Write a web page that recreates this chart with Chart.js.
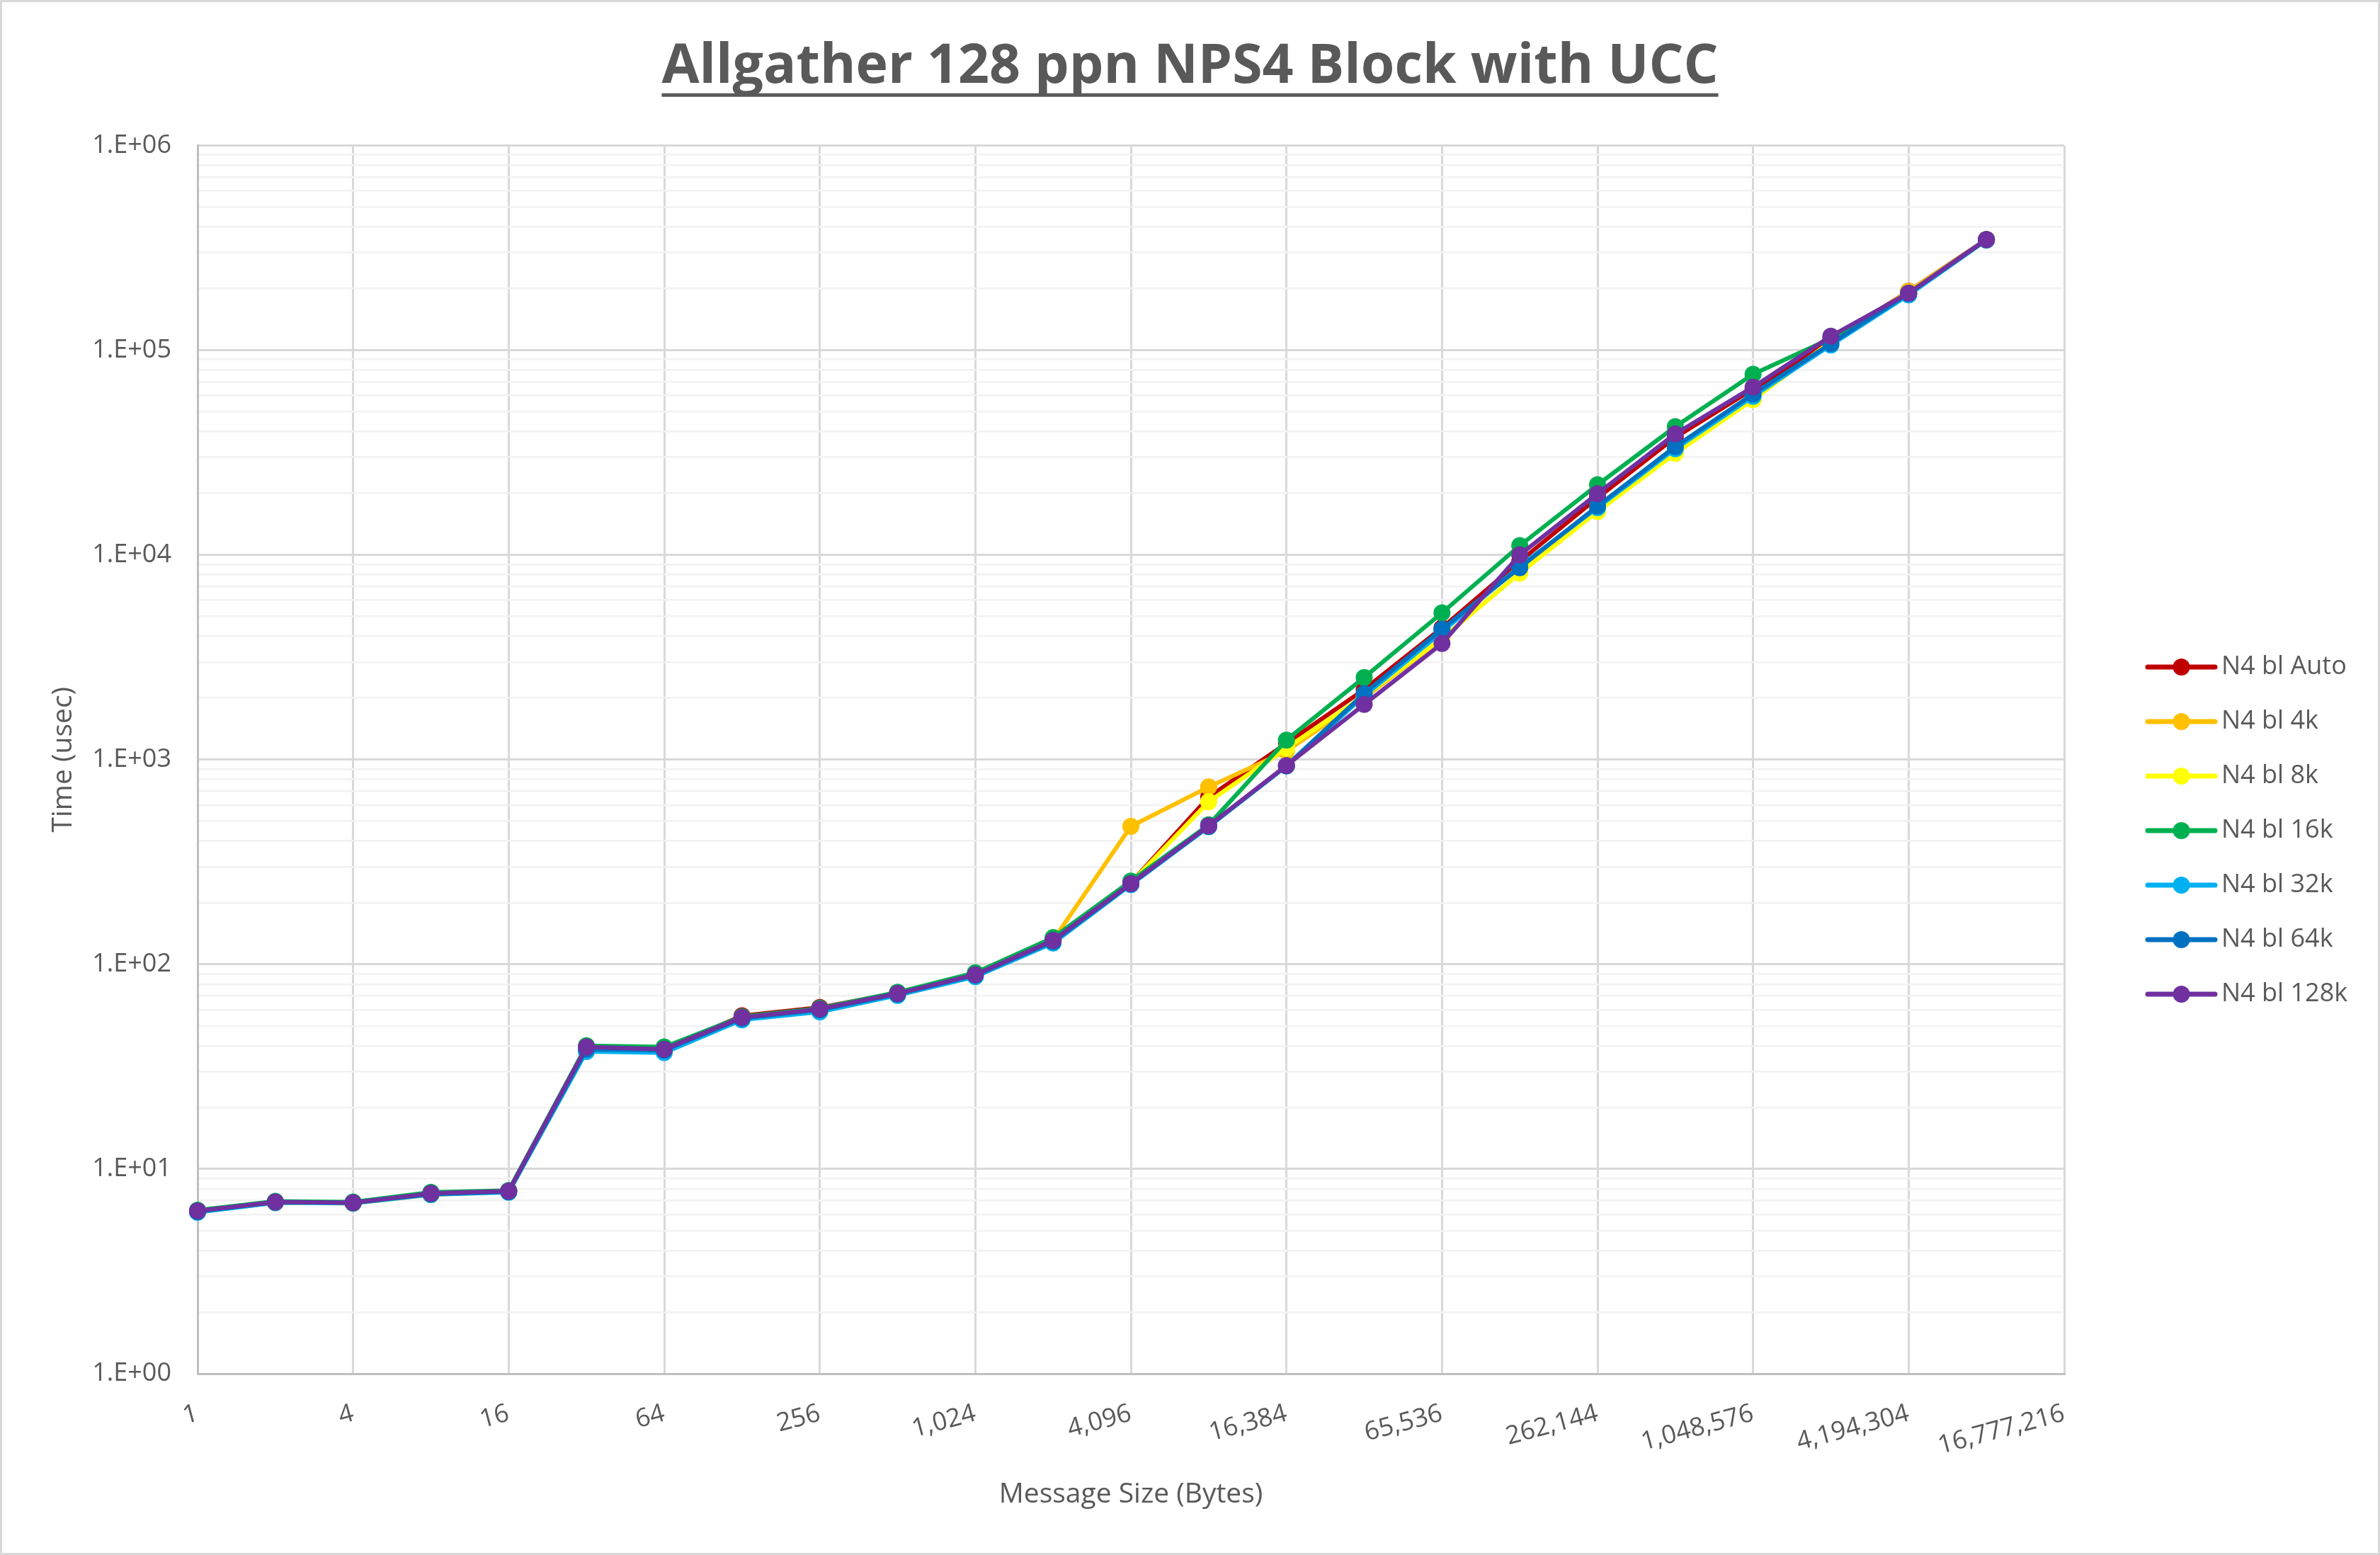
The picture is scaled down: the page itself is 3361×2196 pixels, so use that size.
<!DOCTYPE html>
<html>
<head>
<meta charset="utf-8">
<title>Allgather 128 ppn NPS4 Block with UCC</title>
<script src="https://cdn.jsdelivr.net/npm/chart.js@4.4.1/dist/chart.umd.min.js"></script>
<style>
  html, body { margin: 0; padding: 0; background: #fff; overflow: hidden; }
  canvas { display: block; }
</style>
</head>
<body>
<canvas id="chart" width="3361" height="2196"></canvas>
<script>
// Message sizes in bytes; the last one only closes the axis (no data there)
const messageSizes = [1, 2, 4, 8, 16, 32, 64, 128, 256, 512, 1024, 2048, 4096, 8192,
  16384, 32768, 65536, 131072, 262144, 524288, 1048576, 2097152, 4194304, 8388608, 16777216];
const xTickLabels = ['1', '4', '16', '64', '256', '1,024', '4,096', '16,384', '65,536',
  '262,144', '1,048,576', '4,194,304', '16,777,216'];

const yTickValues = [1, 10, 100, 1000, 10000, 100000, 1000000];
const yTickLabels = ['1.E+00', '1.E+01', '1.E+02', '1.E+03', '1.E+04', '1.E+05', '1.E+06'];

const seriesNames = ['N4 bl Auto', 'N4 bl 4k', 'N4 bl 8k', 'N4 bl 16k', 'N4 bl 32k', 'N4 bl 64k', 'N4 bl 128k'];
const seriesColors = ['#C00000', '#FFC000', '#FFFF00', '#00B050', '#00B0F0', '#0070C0', '#7030A0'];

// Time (usec), one value per message size
const timeAuto = [6.25, 6.9, 6.85, 7.6, 7.8, 39.5, 38.5, 56, 61.5, 72.5, 89.5, 132,
  250, 655, 1200, 2200, 4400, 9300, 19000, 37500, 64500, 112000, 194000, 347000];
const time4k = [6.2, 6.85, 6.8, 7.5, 7.75, 38, 37.5, 54, 59, 71, 88, 131,
  472, 735, 1100, 2000, 3900, 8150, 16300, 31800, 57400, 110000, 194000, 346000];
const time8k = [6.2, 6.85, 6.8, 7.5, 7.75, 38, 37.5, 54, 59, 71, 88, 130,
  250, 622, 1138, 2050, 3900, 8150, 16300, 31300, 57400, 110000, 190000, 346000];
const time16k = [6.3, 6.95, 6.9, 7.7, 7.85, 40, 39.5, 55.5, 61, 73, 91, 135,
  255, 480, 1245, 2520, 5210, 11100, 22000, 42300, 76300, 114000, 190000, 347000];
const time32k = [6.15, 6.85, 6.8, 7.5, 7.7, 37.5, 37, 53.5, 58.5, 70.5, 87, 127,
  245, 470, 930, 2050, 4200, 8800, 17000, 33000, 59500, 106000, 186000, 345000];
const time64k = [6.2, 6.9, 6.85, 7.55, 7.75, 38.5, 38, 54.5, 60, 71.5, 88.5, 129,
  247, 472, 932, 2100, 4340, 8660, 17300, 33800, 61000, 107600, 189000, 346000];
const time128k = [6.25, 6.9, 6.85, 7.6, 7.8, 39.5, 38.5, 55, 60.5, 72, 89, 131,
  248, 475, 935, 1860, 3690, 10000, 19900, 39000, 66000, 117000, 190000, 347000];

const seriesValues = [timeAuto, time4k, time8k, time16k, time32k, time64k, time128k];

const TEXT = '#595959';
const FONT = "'Open Sans', 'Liberation Sans', sans-serif";
const TITLE_SIZE = 77;
const TITLE_PAD_TOP = 49;

Chart.defaults.font.family = FONT;
Chart.defaults.color = TEXT;

// white background + thin chart border
const chartFrame = {
  id: 'chartFrame',
  beforeDraw(chart) {
    const ctx = chart.ctx;
    ctx.save();
    ctx.fillStyle = '#ffffff';
    ctx.fillRect(0, 0, chart.width, chart.height);
    ctx.strokeStyle = '#D9D9D9';
    ctx.lineWidth = 3;
    ctx.strokeRect(1.5, 1.5, chart.width - 3, chart.height - 3);
    ctx.restore();
  }
};

// title spans the whole chart width (not only the part left of the legend), underlined
const titleUnderline = {
  id: 'titleUnderline',
  afterLayout(chart) {
    const tb = chart.titleBlock;
    if (!tb) return;
    tb.left = 0;
    tb.right = chart.width;
    tb.width = chart.width;
  },
  afterDraw(chart) {
    const tb = chart.titleBlock;
    if (!tb) return;
    const ctx = chart.ctx;
    ctx.save();
    ctx.font = 'bold ' + TITLE_SIZE + 'px ' + FONT;
    const w = ctx.measureText(tb.options.text).width;
    const cx = (tb.left + tb.right) / 2;
    const y = tb.top + TITLE_PAD_TOP + TITLE_SIZE * 1.2 / 2 + 39;
    ctx.fillStyle = TEXT;
    ctx.fillRect(cx - w / 2, y - 2.5, w, 5);
    ctx.restore();
  }
};

// Excel-like legend on the right: line + marker + label
const sideLegend = {
  id: 'sideLegend',
  afterDraw(chart) {
    const ctx = chart.ctx;
    const x0 = chart.chartArea.right + 118;
    const y0 = 942;
    const step = 77;
    ctx.save();
    chart.data.datasets.forEach((ds, i) => {
      const y = y0 + i * step;
      ctx.strokeStyle = ds.borderColor;
      ctx.lineWidth = 7;
      ctx.lineCap = 'round';
      ctx.beginPath();
      ctx.moveTo(x0, y);
      ctx.lineTo(x0 + 95, y);
      ctx.stroke();
      ctx.fillStyle = ds.borderColor;
      ctx.beginPath();
      ctx.arc(x0 + 47.5, y, 12, 0, Math.PI * 2);
      ctx.fill();
      ctx.fillStyle = TEXT;
      ctx.font = '36px ' + FONT;
      ctx.textAlign = 'left';
      ctx.textBaseline = 'middle';
      ctx.fillText(ds.label, x0 + 104, y);
    });
    ctx.restore();
  }
};

const datasets = seriesNames.map((name, i) => ({
  label: name,
  data: seriesValues[i],
  borderColor: seriesColors[i],
  backgroundColor: seriesColors[i],
  pointBackgroundColor: seriesColors[i],
  pointBorderColor: seriesColors[i],
  borderWidth: 6,
  pointRadius: 12,
  pointHoverRadius: 12,
  pointBorderWidth: 0,
  borderJoinStyle: 'round',
  borderCapStyle: 'round',
  tension: 0,
  clip: false,
  order: seriesNames.length - i   // last series on top, like Excel
}));

new Chart(document.getElementById('chart'), {
  type: 'line',
  data: {
    labels: messageSizes,
    datasets: datasets
  },
  options: {
    responsive: false,
    devicePixelRatio: 1,
    animation: false,
    layout: { padding: { left: 0, right: 446, top: 0, bottom: 0 } },
    plugins: {
      legend: { display: false },
      tooltip: { enabled: false },
      title: {
        display: true,
        text: 'Allgather 128 ppn NPS4 Block with UCC',
        color: TEXT,
        font: { family: FONT, size: TITLE_SIZE, weight: 'bold', lineHeight: 1.2 },
        padding: { top: TITLE_PAD_TOP, bottom: 64 }
      }
    },
    scales: {
      x: {
        type: 'category',
        offset: false,
        afterFit: (scale) => { scale.height = 256; },
        grid: {
          drawTicks: false,
          lineWidth: 3,
          color: (ctx) => (ctx.index % 2 === 0 ? '#D9D9D9' : 'rgba(0,0,0,0)')
        },
        border: { color: '#BFBFBF', width: 3 },
        ticks: {
          autoSkip: false,
          minRotation: 15,
          maxRotation: 15,
          padding: 35,
          color: TEXT,
          font: { size: 36 },
          callback: (value, index) => (index % 2 === 0 ? xTickLabels[index / 2] : '')
        },
        title: {
          display: true,
          text: 'Message Size (Bytes)',
          color: TEXT,
          font: { size: 39 },
          padding: { top: 0, bottom: 62 }
        }
      },
      y: {
        type: 'logarithmic',
        min: 1,
        max: 1000000,
        afterFit: (scale) => { scale.width = 279; },
        afterBuildTicks: (scale) => {
          const ticks = [];
          yTickValues.forEach((p, e) => {
            if (e === yTickValues.length - 1) { ticks.push({ value: p }); return; }
            for (let d = 1; d <= 9; d++) ticks.push({ value: d * p });
          });
          scale.ticks = ticks;
        },
        grid: {
          drawTicks: false,
          lineWidth: (ctx) => (ctx.tick && yTickValues.includes(ctx.tick.value) ? 3 : 2.5),
          color: (ctx) => (ctx.tick && yTickValues.includes(ctx.tick.value) ? '#D9D9D9' : '#F2F2F2')
        },
        border: { color: '#BFBFBF', width: 3 },
        ticks: {
          autoSkip: false,
          padding: 37,
          color: TEXT,
          font: { size: 36 },
          callback: (value) => {
            const i = yTickValues.indexOf(value);
            return i >= 0 ? yTickLabels[i] : '';
          }
        },
        title: {
          display: true,
          text: 'Time (usec)',
          color: TEXT,
          font: { size: 39 },
          padding: { top: 66, bottom: 0 }
        }
      }
    }
  },
  plugins: [chartFrame, titleUnderline, sideLegend]
});
</script>
</body>
</html>
